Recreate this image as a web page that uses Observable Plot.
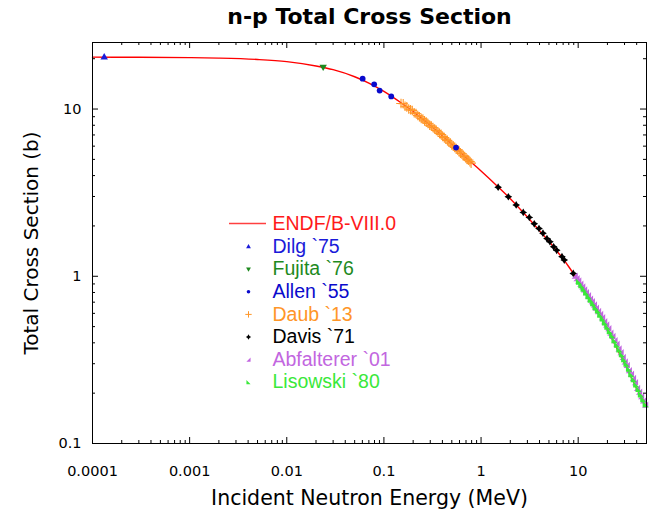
<!DOCTYPE html>
<html><head><meta charset="utf-8">
<script src="https://cdn.jsdelivr.net/npm/d3@7"></script>
<script src="https://cdn.jsdelivr.net/npm/@observablehq/plot@0.6"></script>
<style>html,body{margin:0;padding:0;background:#fff;}</style>
</head><body><div id="chart"></div>
<script>
const titleText = "n-p Total Cross Section";
const xLabel = "Incident Neutron Energy (MeV)";
const yLabel = "Total Cross Section (b)";
const xTickValues = [1e-4, 1e-3, 1e-2, 1e-1, 1, 10];
const xTickLabels = ["0.0001", "0.001", "0.01", "0.1", "1", "10"];
const yTickValues = [0.1, 1, 10];
const yTickLabels = ["0.1", "1", "10"];

// ENDF/B-VIII.0 evaluated curve (MeV, barns)
const endfE = [1e-4, 3e-4, 1e-3, 2e-3, 5e-3, 0.01, 0.02, 0.03, 0.05, 0.07, 0.1, 0.15, 0.2, 0.3, 0.5, 0.7, 1.0, 1.5, 2.0, 3.0, 4.0, 5.0, 6.0, 7.0, 8.0, 10, 12, 14, 17, 20, 25, 30, 35, 40, 45, 50];
const endfS = [20.43, 20.40, 20.30, 20.16, 19.78, 19.2, 18.1, 17.2, 15.6, 14.3, 12.75, 10.9, 9.65, 8.0, 6.15, 5.12, 4.26, 3.42, 2.91, 2.26, 1.87, 1.62, 1.42, 1.27, 1.14, 0.94, 0.80, 0.70, 0.575, 0.48, 0.37, 0.30, 0.25, 0.213, 0.188, 0.168];

const dilgE = [1.32e-4];
const dilgS = [20.5];
const fujitaE = [0.0237];
const fujitaS = [17.8];
const allenE = [0.0604, 0.0794, 0.0904, 0.119, 0.553];
const allenS = [15.2, 14.06, 12.9, 11.9, 5.88];
const daubE = [0.150, 0.158, 0.165, 0.172, 0.180, 0.188, 0.196, 0.205, 0.214, 0.223, 0.232, 0.242, 0.252, 0.262, 0.273, 0.284, 0.296, 0.308, 0.320, 0.333, 0.346, 0.360, 0.374, 0.388, 0.403, 0.418, 0.434, 0.450, 0.466, 0.483, 0.500, 0.518, 0.536, 0.555, 0.574, 0.594, 0.614, 0.635, 0.656, 0.678, 0.700, 0.722, 0.745, 0.768, 0.790];
const daubS = [10.8, 10.75, 10.4, 10.3, 10.0, 9.9, 9.8, 9.5, 9.4, 9.15, 9.0, 8.8, 8.7, 8.5, 8.35, 8.2, 8.0, 7.9, 7.75, 7.6, 7.45, 7.3, 7.15, 7.05, 6.85, 6.75, 6.6, 6.5, 6.35, 6.25, 6.1, 6.0, 5.9, 5.8, 5.7, 5.6, 5.45, 5.4, 5.25, 5.2, 5.1, 5.0, 4.95, 4.85, 4.75];
const davisE = [1.50, 1.91, 2.30, 2.72, 3.14, 3.53, 3.95, 4.34, 4.77, 5.12, 5.59, 6.01, 6.81, 7.19, 8.90];
const davisS = [3.41, 2.99, 2.67, 2.41, 2.25, 2.06, 1.93, 1.81, 1.68, 1.61, 1.50, 1.43, 1.31, 1.25, 1.04];
const abfE = [9.2, 9.6, 10.0, 10.5, 11.0, 11.5, 12.0, 12.6, 13.2, 13.8, 14.5, 15.2, 16.0, 16.8, 17.6, 18.5, 19.4, 20.4, 21.4, 22.5, 23.6, 24.8, 26.0, 27.3, 28.7, 30.1, 31.6, 33.2, 34.9, 36.6, 38.4, 40.3, 42.3, 44.4, 46.6, 48.9];
const abfS = [1.01, 0.975, 0.945, 0.905, 0.87, 0.835, 0.805, 0.77, 0.735, 0.71, 0.68, 0.65, 0.62, 0.595, 0.57, 0.54, 0.515, 0.49, 0.46, 0.44, 0.415, 0.395, 0.37, 0.352, 0.33, 0.31, 0.295, 0.275, 0.262, 0.247, 0.233, 0.215, 0.204, 0.192, 0.181, 0.171];
const lisE = [10.2, 10.8, 11.4, 12.1, 12.8, 13.5, 14.3, 15.1, 16.0, 16.9, 17.9, 18.9, 20.0, 21.2, 22.4, 23.7, 25.1, 26.6, 28.2, 29.8, 31.5, 33.4, 35.3, 37.4, 39.6, 41.9, 44.3, 46.9, 49.6];
const lisS = [0.93, 0.885, 0.845, 0.80, 0.76, 0.725, 0.69, 0.655, 0.625, 0.59, 0.56, 0.53, 0.50, 0.47, 0.445, 0.415, 0.39, 0.365, 0.342, 0.32, 0.30, 0.28, 0.26, 0.243, 0.226, 0.212, 0.197, 0.184, 0.172];

const legendLabels = ["ENDF/B-VIII.0", "Dilg `75", "Fujita `76", "Allen `55", "Daub `13", "Davis `71", "Abfalterer `01", "Lisowski `80"];
const legendColors = ["#ff1a1a", "#1a1ad9", "#1e8a1e", "#0a0acc", "#ff9628", "#000000", "#c266e0", "#3ae83a"];

const tbl = (E, S) => E.map((e, i) => ({e, s: S[i]}));

// custom marker shapes
const symTriDown = {draw(c, size) { const r = Math.sqrt(size / Math.PI) * 1.15; c.moveTo(0, r); c.lineTo(0.95 * r, -0.65 * r); c.lineTo(-0.95 * r, -0.65 * r); c.closePath(); }};
const symTriUp = {draw(c, size) { const r = Math.sqrt(size / Math.PI) * 1.15; c.moveTo(0, -r); c.lineTo(0.95 * r, 0.65 * r); c.lineTo(-0.95 * r, 0.65 * r); c.closePath(); }};
const symAbf = {draw(c, size) { const r = Math.sqrt(size / Math.PI) * 0.95; c.moveTo(r, -r); c.lineTo(r, r); c.lineTo(-r, r); c.closePath(); }};
const symLis = {draw(c, size) { const r = Math.sqrt(size / Math.PI) * 0.95; c.moveTo(-r, -r); c.lineTo(-r, r); c.lineTo(r, r); c.closePath(); }};
const symStar = {draw(c, size) { const r = Math.sqrt(size / Math.PI) * 1.2, q = r * 0.38; c.moveTo(0, -r); c.lineTo(q, -q); c.lineTo(r, 0); c.lineTo(q, q); c.lineTo(0, r); c.lineTo(-q, q); c.lineTo(-r, 0); c.lineTo(-q, -q); c.closePath(); }};

const W = 664, H = 513, mL = 92, mR = 18, mT = 42, mB = 70;
const innerW = W - mL - mR, innerH = H - mT - mB;
const xMax = 50.5, yMax = 25;

// minor tick positions (2..9 per decade), kept inside the domain
const xMinor = [], yMinor = [];
for (const d of [1e-4, 1e-3, 1e-2, 1e-1, 1, 10]) for (let k = 2; k <= 9; k++) if (k * d < xMax * 0.99) xMinor.push(k * d);
for (const d of [0.1, 1, 10]) for (let k = 2; k <= 9; k++) if (k * d < yMax) yMinor.push(k * d);

const tk = {stroke: "black", strokeWidth: 1};
const tickMarks = [
  Plot.tickX(xTickValues, {x: d => d, insetTop: innerH - 6, ...tk}),
  Plot.tickX(xTickValues, {x: d => d, insetBottom: innerH - 6, ...tk}),
  Plot.tickX(xMinor, {x: d => d, insetTop: innerH - 3, ...tk}),
  Plot.tickX(xMinor, {x: d => d, insetBottom: innerH - 3, ...tk}),
  Plot.tickY(yTickValues, {y: d => d, insetRight: innerW - 6, ...tk}),
  Plot.tickY(yTickValues, {y: d => d, insetLeft: innerW - 6, ...tk}),
  Plot.tickY(yMinor, {y: d => d, insetRight: innerW - 3, ...tk}),
  Plot.tickY(yMinor, {y: d => d, insetLeft: innerW - 3, ...tk})
];

const legFont = "Liberation Sans, Arial, sans-serif";
const legTop = 181.5, legGap = 22.6, legMarkX = 156, legTextX = 180;
const legSymbols = [null, symTriUp, symTriDown, "circle", "plus", symStar, symAbf, symLis];
const legR = [0, 2.2, 2.2, 1.8, 2.2, 2.2, 2.2, 2.2];
const legendMarks = [];
legendLabels.forEach((lab, i) => {
  const dy = legTop + i * legGap;
  legendMarks.push(Plot.text([lab], {x: null, y: null, text: d => d, frameAnchor: "top-left", dx: legTextX, dy, textAnchor: "start", lineAnchor: "middle", fill: legendColors[i], fontSize: 19.5, fontFamily: legFont}));
  if (i > 0) {
    const sym = legSymbols[i];
    const opts = {x: null, y: null, frameAnchor: "top-left", dx: legMarkX, dy, symbol: sym, r: legR[i]};
    if (sym === "plus") { opts.stroke = legendColors[i]; opts.strokeWidth = 1; opts.fill = "none"; }
    else { opts.fill = legendColors[i]; opts.stroke = "none"; }
    legendMarks.push(Plot.dot([0], opts));
  }
});
legendMarks.push((index, scales, values, dims) => {
  const ln = document.createElementNS("http://www.w3.org/2000/svg", "line");
  const y = dims.marginTop + legTop;
  ln.setAttribute("x1", dims.marginLeft + 137);
  ln.setAttribute("x2", dims.marginLeft + 174);
  ln.setAttribute("y1", y);
  ln.setAttribute("y2", y);
  ln.setAttribute("stroke", "#ff4040");
  ln.setAttribute("stroke-width", 1.4);
  return ln;
});

const chart = Plot.plot({
  width: W, height: H,
  marginLeft: mL, marginRight: mR, marginTop: mT, marginBottom: mB,
  style: {fontFamily: "DejaVu Sans, sans-serif", fontSize: "14.5px", background: "white", color: "black"},
  x: {type: "log", domain: [1e-4, xMax], axis: null},
  y: {type: "log", domain: [0.1, yMax], axis: null},
  marks: [
    Plot.line(tbl(endfE, endfS), {x: "e", y: "s", stroke: "#ff0000", strokeWidth: 1.4, curve: "monotone-x"}),
    Plot.dot(tbl(daubE, daubS), {x: "e", y: "s", symbol: "plus", stroke: legendColors[4], strokeWidth: 1.1, r: 3.2}),
    Plot.dot(tbl(dilgE, dilgS), {x: "e", y: "s", symbol: symTriUp, fill: legendColors[1], stroke: "none", r: 3.4}),
    Plot.dot(tbl(fujitaE, fujitaS), {x: "e", y: "s", symbol: symTriDown, fill: legendColors[2], stroke: "none", r: 3.4}),
    Plot.dot(tbl(allenE, allenS), {x: "e", y: "s", symbol: "circle", fill: legendColors[3], stroke: "none", r: 2.9}),
    Plot.dot(tbl(davisE, davisS), {x: "e", y: "s", symbol: symStar, fill: legendColors[5], stroke: "none", r: 3.2}),
    Plot.dot(tbl(abfE, abfS), {x: "e", y: "s", symbol: symAbf, fill: legendColors[6], stroke: "none", r: 3.3}),
    Plot.dot(tbl(lisE, lisS), {x: "e", y: "s", symbol: symLis, fill: legendColors[7], stroke: "none", r: 3.3}),
    ...tickMarks,
    Plot.frame({stroke: "black", strokeWidth: 1}),
    Plot.text(xTickValues, {x: d => d, y: null, text: (d, i) => xTickLabels[i], frameAnchor: "bottom", dy: 22, lineAnchor: "top", textAnchor: "middle", fontSize: 14.5, fill: "black"}),
    Plot.text(yTickValues, {y: d => d, x: null, text: (d, i) => yTickLabels[i], frameAnchor: "left", dx: -11, lineAnchor: "middle", textAnchor: "end", fontSize: 14.5, fill: "black"}),
    Plot.text([titleText], {x: null, y: null, text: d => d, frameAnchor: "top", dy: -19, lineAnchor: "bottom", textAnchor: "middle", fontSize: 22, fontWeight: "bold", fill: "black"}),
    Plot.text([xLabel], {x: null, y: null, text: d => d, frameAnchor: "bottom", dy: 61, lineAnchor: "bottom", textAnchor: "middle", fontSize: 20.5, fill: "black"}),
    Plot.text([yLabel], {x: null, y: null, text: d => d, frameAnchor: "left", dx: -55, rotate: -90, lineAnchor: "bottom", textAnchor: "middle", fontSize: 20, fill: "black"}),
    ...legendMarks
  ]
});
document.getElementById("chart").appendChild(chart);
</script>
</body></html>
